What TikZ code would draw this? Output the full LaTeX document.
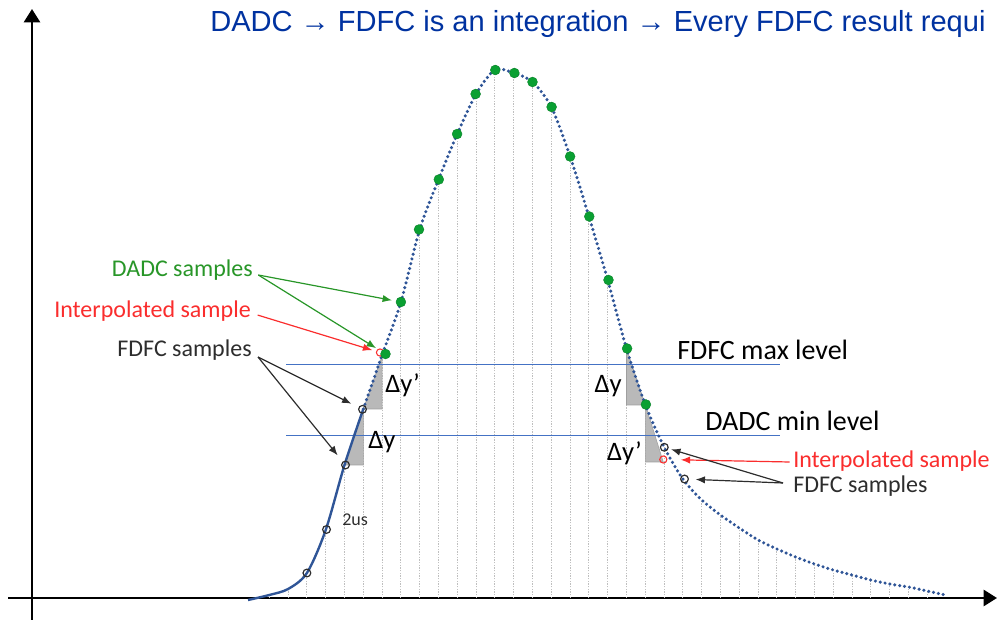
\documentclass[tikz,border=0pt]{standalone}
\usepackage{fontspec}
\setmainfont{Carlito}
\newfontfamily\headfont{Liberation Sans}
\usetikzlibrary{arrows.meta}

\definecolor{curveblue}{RGB}{47,85,151}
\definecolor{levelblue}{RGB}{68,114,196}
\definecolor{dadcgreen}{RGB}{10,160,50}
\definecolor{labelgreen}{RGB}{40,150,40}
\definecolor{interpred}{RGB}{250,45,45}
\definecolor{headblue}{RGB}{0,50,160}
\definecolor{fdfcgray}{RGB}{45,45,45}

\tikzset{>=latex}
\tikzset{
  axisline/.style={line width=1.9pt, -{Triangle[length=10pt,width=12pt]}},
  gridline/.style={draw=gray!50, line width=0.7pt, dash pattern=on 1pt off 1pt},
  levelline/.style={draw=levelblue, line width=0.9pt},
  deltatri/.style={fill=gray!55, draw=gray!75, line width=0.4pt},
  pulsedots/.style={draw=curveblue, line width=2.6pt, line cap=round, dash pattern=on 0pt off 3.7pt},
  dadc/.style={circle, inner sep=0pt, minimum size=7.4pt, fill=dadcgreen, draw=dadcgreen!80!black, line width=0.3pt},
  fdfc/.style={circle, inner sep=0pt, minimum size=5.8pt, draw=fdfcgray, line width=0.9pt},
  interp/.style={circle, inner sep=0pt, minimum size=5.4pt, draw=interpred, line width=0.8pt},
  pointer/.style={line width=0.9pt, -{Latex[length=7pt,width=5.5pt]}},
  samplelabel/.style={font=\fontsize{18}{20}\selectfont, inner sep=0pt},
  levellabel/.style={font=\fontsize{21}{24}\selectfont, inner sep=0pt},
  deltalabel/.style={font=\fontsize{20}{22}\selectfont, inner sep=0pt},
}

\begin{document}
\begin{tikzpicture}[x=0.75pt, y=-0.75pt]
\useasboundingbox (0,0) rectangle (997,620);
\clip (0,0) rectangle (997,620);

\node[anchor=base west, inner sep=0pt, text=headblue, font=\headfont\fontsize{21.8}{25}\selectfont] (head) at (210,31.7) {DADC → FDFC is an integration → Every FDFC result requi};

\draw[axisline] (8,598) -- (997,598);
\draw[axisline] (32,620) -- (32,9);

% sampling grid, one line every 2us
\foreach \k/\gy in {0/595, 1/589, 2/573, 3/530, 4/465, 5/409, 6/355, 7/302, 8/229.5, 9/179.5,
    10/134, 11/94, 12/70, 13/73, 14/82, 15/107, 16/156.5, 17/216.5, 18/280, 19/348.5,
    20/404.5, 21/447, 22/479, 23/500, 24/515, 25/528, 26/540, 27/549, 28/557, 29/564,
    30/570, 31/575, 32/580, 33/584, 34/587, 35/591}
  \draw[gridline] ({269.3+18.8*\k},598) -- ({269.3+18.8*\k},\gy);

% slope triangles
\filldraw[deltatri] (344.5,465) -- (363.3,465) -- (363.3,409) -- cycle;
\filldraw[deltatri] (363.3,409) -- (382.1,409) -- (382.1,356) -- cycle;
\filldraw[deltatri] (626.5,348.5) -- (626.5,405) -- (645.3,405) -- cycle;
\filldraw[deltatri] (645.3,404.5) -- (645.3,462) -- (663.3,462) -- cycle;

\draw[levelline] (286,364.5) -- (780,364.5);
\draw[levelline] (286,435.5) -- (780,435.5);

% pulse: solid where FDFC samples, dotted above
\draw[curveblue, line width=1.8pt] plot[smooth] coordinates {(248,600) (269.3,595) (288.1,589) (306.9,573) (325.7,530) (344.5,465) (363.3,409)};
\draw[pulsedots] plot[smooth] coordinates {(363.3,409) (382.1,355) (400.9,302) (419.7,229.5) (438.5,179.5) (457.3,134) (476.1,94) (494.9,70) (513.7,73) (532.5,82) (551.3,107) (570.1,156.5) (588.9,216.5) (607.7,280) (626.5,348.5) (645.3,404.5) (664.1,447) (682.9,479) (701.7,500) (720.5,515) (739.3,528) (758.1,540) (776.9,549) (795.7,557) (814.5,564) (833.3,570) (852.1,575) (870.9,580) (889.7,584) (908.5,587) (927.3,591) (945,595)};

% interpolated samples
\node[interp] (r1) at (380,352.5) {};
\node[interp] (r2) at (663.3,459.5) {};

% FDFC samples
\node[fdfc] (f2) at (306.9,573) {};
\node[fdfc] (f3) at (326.5,529.5) {};
\node[fdfc] (f4) at (345.5,465) {};
\node[fdfc] (f5) at (362.5,409.3) {};
\node[fdfc] (f21) at (664.3,447.3) {};
\node[fdfc] (f22) at (684.5,479) {};

% DADC samples
\node[dadc] (g6) at (385.5,354) {};
\node[dadc] (g7) at (400.9,302) {};
\node[dadc] (g8) at (419,229.5) {};
\node[dadc] (g9) at (438.8,179.5) {};
\node[dadc] (g10) at (457.1,134) {};
\node[dadc] (g11) at (475.6,94) {};
\node[dadc] (g12) at (495.3,70) {};
\node[dadc] (g13) at (514.4,73) {};
\node[dadc] (g14) at (532.5,82) {};
\node[dadc] (g15) at (551.6,107) {};
\node[dadc] (g16) at (570.1,156.5) {};
\node[dadc] (g17) at (589.3,216.5) {};
\node[dadc] (g18) at (608.5,280) {};
\node[dadc] (g19) at (627.1,348.5) {};
\node[dadc] (g20) at (645.9,404.5) {};

% labels
\node[samplelabel, text=labelgreen, anchor=base east] (dadcL) at (253,277) {DADC samples};
\node[samplelabel, text=interpred, anchor=base east] (interpL) at (251,318) {Interpolated sample};
\node[samplelabel, text=fdfcgray, anchor=base east] (fdfcL) at (252,357) {FDFC samples};
\node[levellabel, anchor=base west] (maxL) at (677,360) {FDFC max level};
\node[levellabel, anchor=base west] (minL) at (705,431) {DADC min level};
\node[samplelabel, text=interpred, anchor=base west] (interpR) at (793,468) {Interpolated sample};
\node[samplelabel, text=fdfcgray, anchor=base west] (fdfcR) at (793,493) {FDFC samples};
\node[deltalabel, anchor=base west] (dyA) at (385,393) {Δy’};
\node[deltalabel, anchor=base west] (dyB) at (368,449) {Δy};
\node[deltalabel, anchor=base east] (dyC) at (622,393) {Δy};
\node[deltalabel, anchor=base east] (dyD) at (642,460) {Δy’};
\node[inner sep=0pt, text=fdfcgray, font=\fontsize{13.5}{15}\selectfont, anchor=base west] (tick) at (342,525) {2us};

% pointers
\draw[pointer, labelgreen] ([xshift=4pt,yshift=1.5pt]dadcL.base east) -- (g7) [shorten >=3pt];
\draw[pointer, labelgreen] ([xshift=4pt,yshift=1.5pt]dadcL.base east) -- (g6) [shorten >=4.5pt];
\draw[pointer, interpred] ([xshift=5pt,yshift=2.2pt]interpL.base east) -- (r1) [shorten >=3pt];
\draw[pointer, fdfcgray] ([xshift=4.5pt]fdfcL.base east) -- (f5) [shorten >=6pt];
\draw[pointer, fdfcgray] ([xshift=4.5pt]fdfcL.base east) -- (f4) [shorten >=6pt];
\draw[pointer, interpred] ([xshift=-2.5pt,yshift=4.5pt]interpR.base west) -- (r2) [shorten >=10pt];
\draw[pointer, fdfcgray] ([xshift=-7.5pt,yshift=7.5pt]fdfcR.base west) -- (f21) [shorten >=2pt];
\draw[pointer, fdfcgray] ([xshift=-7.5pt,yshift=7.5pt]fdfcR.base west) -- (f22) [shorten >=5pt];

\end{tikzpicture}
\end{document}
